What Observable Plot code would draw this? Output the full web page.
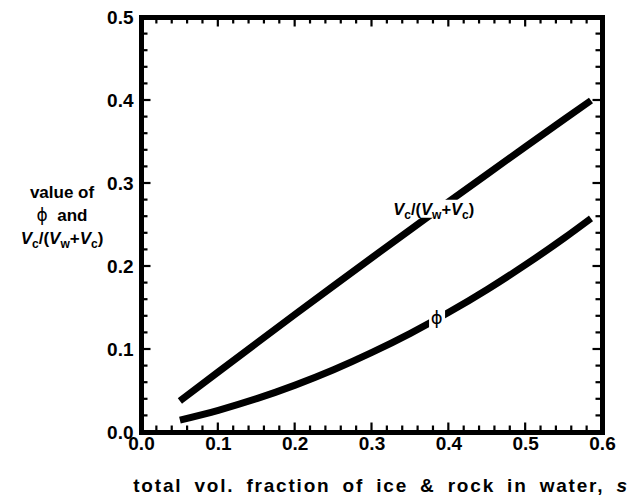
<!DOCTYPE html>
<html>
<head>
<meta charset="utf-8">
<script src="https://cdn.jsdelivr.net/npm/d3@7"></script>
<script src="https://cdn.jsdelivr.net/npm/@observablehq/plot@0.6"></script>
<style>
  body { margin: 0; background: #fff; }
  #wrap { position: relative; width: 638px; height: 498px; font-family: "Liberation Sans", Arial, sans-serif; font-weight: bold; color: #000; }
  .lab { position: absolute; white-space: nowrap; font-size: 17px; line-height: 1; }
  .lab i { font-style: italic; }
  .lab sub { font-size: 12px; vertical-align: -4px; line-height: 0; }
  .knock { background: #fff; padding: 1px 2px; transform: translate(-50%, -50%); }
  .phi { font-family: "DejaVu Sans", sans-serif; font-weight: normal; }
</style>
</head>
<body>
<div id="wrap"></div>
<script>
// data
const s = [0.05, 0.10, 0.15, 0.20, 0.25, 0.30, 0.35, 0.40, 0.45, 0.50, 0.55, 0.585];
const vcRatio = [0.038, 0.073, 0.1078, 0.1424, 0.1767, 0.2107, 0.2445, 0.2781, 0.3114, 0.3444, 0.3772, 0.400];
const phi = [0.015, 0.0268, 0.0408, 0.0571, 0.0756, 0.0965, 0.1195, 0.1448, 0.1723, 0.2022, 0.2342, 0.258];
const xTicks = [0, 0.1, 0.2, 0.3, 0.4, 0.5, 0.6];
const yTicks = [0, 0.1, 0.2, 0.3, 0.4, 0.5];
const labelPos = {vc: 0.381, phi: 0.385};

const rows1 = s.map((d, i) => ({s: d, v: vcRatio[i]}));
const rows2 = s.map((d, i) => ({s: d, v: phi[i]}));

const W = 638, H = 498;
const plot = Plot.plot({
  width: W, height: H,
  marginLeft: 141, marginRight: 36, marginTop: 17, marginBottom: 66,
  style: {fontFamily: "Liberation Sans, Arial, sans-serif", fontSize: "19px", fontWeight: "bold", background: "#fff", color: "#000"},
  x: {domain: [0, 0.6]},
  y: {domain: [0, 0.5]},
  marks: [
    Plot.line(rows1, {x: "s", y: "v", stroke: "#000", strokeWidth: 7, strokeLinecap: "butt", curve: "monotone-x"}),
    Plot.line(rows2, {x: "s", y: "v", stroke: "#000", strokeWidth: 7, strokeLinecap: "butt", curve: "monotone-x"}),
    Plot.axisX(xTicks, {tickSize: 0, tickPadding: 4, tickFormat: d3.format(".1f"), label: null, fontSize: 19, fontWeight: "bold"}),
    Plot.axisY(yTicks, {tickSize: 0, tickPadding: 8, tickFormat: d3.format(".1f"), label: null, fontSize: 19, fontWeight: "bold"}),
    Plot.frame({stroke: "#000", strokeWidth: 5})
  ]
});

const wrap = document.getElementById("wrap");
wrap.appendChild(plot);

// inward ticks on all four sides, from the plot's own scales
const xs = plot.scale("x"), ys = plot.scale("y");
const svg = d3.select(plot);
const g = svg.append("g").attr("stroke", "#000").attr("stroke-width", 2.2);
const x0 = xs.apply(0), x1 = xs.apply(0.6), y0 = ys.apply(0), y1 = ys.apply(0.5);
const minorX = d3.range(0, 31).map(i => i * 0.02);
const minorY = d3.range(0, 26).map(i => i * 0.02);
minorX.forEach((v, i) => {
  if (i === 0 || i === 30) return;
  const len = (i % 5 === 0) ? 7 : 4;
  const px = xs.apply(v);
  g.append("line").attr("x1", px).attr("x2", px).attr("y1", y0).attr("y2", y0 - 2.5 - len);
  g.append("line").attr("x1", px).attr("x2", px).attr("y1", y1).attr("y2", y1 + 2.5 + len);
});
minorY.forEach((v, i) => {
  if (i === 0 || i === 25) return;
  const len = (i % 5 === 0) ? 7 : 4;
  const py = ys.apply(v);
  g.append("line").attr("y1", py).attr("y2", py).attr("x1", x0).attr("x2", x0 + 2.5 + len);
  g.append("line").attr("y1", py).attr("y2", py).attr("x1", x1).attr("x2", x1 - 2.5 - len);
});

function addLabel(html, left, top, cls) {
  const d = document.createElement("div");
  d.className = "lab " + (cls || "");
  d.innerHTML = html;
  d.style.left = left + "px";
  d.style.top = top + "px";
  wrap.appendChild(d);
  return d;
}

// y axis title (three centered lines)
const yt = addLabel('value of<br><span class="phi">ϕ</span>&nbsp; and<br><i>V</i><sub>c</sub>/(<i>V</i><sub>w</sub>+<i>V</i><sub>c</sub>)', 62, 215, "");
yt.style.textAlign = "center";
yt.style.lineHeight = "23px";
yt.style.transform = "translate(-50%, -50%)";

// x axis title
const xt = addLabel('total vol. fraction of ice &amp; rock in water, <i>s</i>', 381, 485, "");
xt.style.transform = "translate(-50%, -50%)";
xt.style.fontSize = "19px";
xt.style.letterSpacing = "1.8px";
xt.style.wordSpacing = "5px";

// in-chart labels sitting on the curves
const vcAt = d3.scaleLinear().domain(s).range(vcRatio)(labelPos.vc);
const phAt = d3.scaleLinear().domain(s).range(phi)(labelPos.phi);
const l1 = addLabel('<i>V</i><sub>c</sub>/(<i>V</i><sub>w</sub>+<i>V</i><sub>c</sub>)', xs.apply(labelPos.vc), ys.apply(vcAt) - 3, "knock");
l1.style.fontSize = "16.5px";
addLabel('<span class="phi" style="font-size:18px">ϕ</span>', xs.apply(labelPos.phi), ys.apply(phAt), "knock");
</script>
</body>
</html>
